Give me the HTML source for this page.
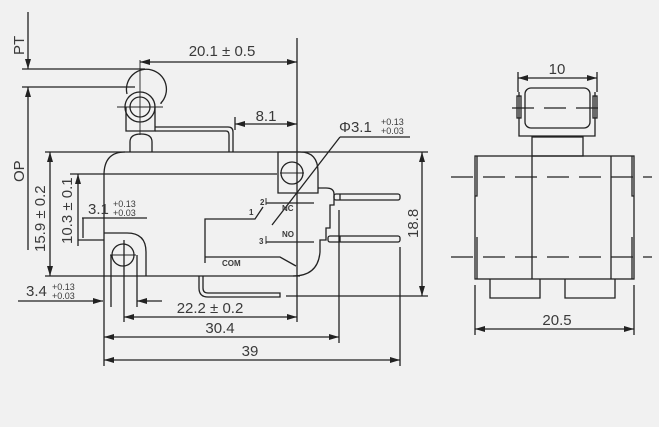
<!DOCTYPE html>
<html><head><style>
html,body{margin:0;padding:0;background:#f1f1f1}
svg{display:block}
text{font-family:"Liberation Sans",sans-serif;fill:#3a3a3a}
</style></head><body>
<svg width="659" height="427" viewBox="0 0 659 427" xmlns="http://www.w3.org/2000/svg">
<defs>
<marker id="a" markerWidth="10" markerHeight="6" refX="10" refY="3" orient="auto-start-reverse" markerUnits="userSpaceOnUse"><path d="M0,0L10,3L0,6z" fill="#222"/></marker>
</defs>
<rect width="659" height="427" fill="#f1f1f1"/>
<g stroke="#222" stroke-width="1.3" fill="none">
<line x1="28" y1="12" x2="28" y2="69" marker-end="url(#a)"/>
<line x1="28" y1="87" x2="28" y2="250" marker-start="url(#a)"/>
<line x1="22" y1="69" x2="145" y2="69"/>
<line x1="22" y1="87" x2="135" y2="87"/>
<path d="M127,94 A20,20 0 1 1 161,103 L161,104"/>
<circle cx="140" cy="107" r="15"/>
<circle cx="140" cy="107" r="10"/>
<line x1="117" y1="107" x2="163" y2="107" stroke-width="0.9"/>
<line x1="140" y1="60" x2="140" y2="135" stroke-width="0.9"/>
<path d="M126,107 V131 H155 V107"/>
<path d="M155,127 H228 Q233,127 233,132 V152"/>
<path d="M155,131 H226 Q229,131 229,135 V152"/>
<path d="M130,152 V142 Q130,134 141,134 Q152,134 152,142 V152"/>
<line x1="140" y1="62" x2="297" y2="62" marker-start="url(#a)" marker-end="url(#a)"/>
<line x1="297" y1="38" x2="297" y2="322"/>
<line x1="235" y1="124" x2="297" y2="124" marker-start="url(#a)" marker-end="url(#a)"/>
<line x1="235" y1="117" x2="235" y2="130"/>
<line x1="45" y1="152" x2="428" y2="152"/>
<path d="M125,152 Q104,152 104,175 V276"/>
<line x1="70" y1="174" x2="277" y2="174"/>
<line x1="45" y1="276" x2="300" y2="276"/>
<path d="M278,193 V152 H300 Q318,152 318,172 V193 Z"/>
<circle cx="292" cy="173" r="11"/>
<line x1="280" y1="173" x2="304" y2="173" stroke-width="0.9"/>
<line x1="272" y1="225" x2="340" y2="137"/>
<line x1="340" y1="137" x2="410" y2="137"/>
<path d="M318,188 H326 Q334,188 334,194 V205 H330 V228 H326 V240 H320 V252 Q318,276 293,276"/>
<rect x="334" y="194" width="66" height="6" rx="2"/>
<rect x="328" y="236" width="72" height="6" rx="2"/>
<line x1="340" y1="194" x2="340" y2="200"/>
<line x1="340" y1="236" x2="340" y2="242"/>
<path d="M205,263 V219 H255 L263,207"/>
<line x1="266" y1="203" x2="314" y2="203"/>
<line x1="266" y1="242" x2="314" y2="242"/>
<path d="M205,257 H280 L296,266"/>
<line x1="266" y1="198" x2="266" y2="205" stroke-width="0.9"/>
<line x1="266" y1="236" x2="266" y2="244" stroke-width="0.9"/>
<path d="M203,276 V288 Q203,293 208,293 H280 V297 H208 Q199,297 199,288 V276"/>
<path d="M104,233 H127 Q146,233 146,252 V276"/>
<circle cx="123" cy="255" r="11"/>
<line x1="110" y1="255" x2="136" y2="255" stroke-width="0.9"/>
<line x1="124" y1="240" x2="124" y2="322"/>
<line x1="137" y1="255" x2="137" y2="307"/>
<line x1="111" y1="255" x2="111" y2="307"/>
<line x1="50" y1="152" x2="50" y2="276" marker-start="url(#a)" marker-end="url(#a)"/>
<line x1="78" y1="174" x2="78" y2="246" marker-start="url(#a)"/>
<line x1="82" y1="218" x2="147" y2="218"/>
<line x1="83" y1="218" x2="83" y2="238"/>
<line x1="78" y1="240" x2="104" y2="240"/>
<line x1="18" y1="301" x2="103" y2="301" marker-end="url(#a)"/>
<line x1="162" y1="301" x2="137" y2="301" marker-end="url(#a)"/>
<line x1="104" y1="276" x2="104" y2="366"/>
<line x1="124" y1="317" x2="297" y2="317" marker-start="url(#a)" marker-end="url(#a)"/>
<line x1="104" y1="337" x2="339" y2="337" marker-start="url(#a)" marker-end="url(#a)"/>
<line x1="339" y1="210" x2="339" y2="343"/>
<line x1="104" y1="360" x2="400" y2="360" marker-start="url(#a)" marker-end="url(#a)"/>
<line x1="400" y1="247" x2="400" y2="366"/>
<line x1="286" y1="296" x2="428" y2="296"/>
<line x1="422" y1="152" x2="422" y2="296" marker-start="url(#a)" marker-end="url(#a)"/>
<line x1="518" y1="78" x2="597" y2="78" marker-start="url(#a)" marker-end="url(#a)"/>
<line x1="518" y1="72" x2="518" y2="92"/>
<line x1="597" y1="72" x2="597" y2="92"/>
<rect x="525" y="88" width="65" height="40" rx="6"/>
<path d="M519,92 V136 H595 V92"/>
<rect x="517" y="96" width="4" height="22"/>
<rect x="593" y="96" width="4" height="22"/>
<rect x="532" y="137" width="51" height="19"/>
<rect x="475" y="156" width="159" height="123"/>
<line x1="532" y1="156" x2="532" y2="279"/>
<line x1="611" y1="156" x2="611" y2="279"/>
<path d="M477,156 V196 H475"/><path d="M632,156 V196 H634"/>
<path d="M477,237 V279"/><path d="M632,237 V279"/>
<path d="M490,279 V298 H540 V279"/>
<path d="M565,279 V298 H615 V279"/>
<line x1="475" y1="285" x2="475" y2="335"/>
<line x1="634" y1="285" x2="634" y2="335"/>
<line x1="475" y1="329" x2="634" y2="329" marker-start="url(#a)" marker-end="url(#a)"/>
<g stroke-dasharray="22,10" stroke-width="1.2">
<line x1="451" y1="177" x2="652" y2="177"/>
<line x1="451" y1="257" x2="652" y2="257"/>
<line x1="512" y1="108" x2="605" y2="108"/>
</g>
</g>
<g font-size="15">
<text x="222" y="56" text-anchor="middle">20.1 ± 0.5</text>
<text x="266" y="121" text-anchor="middle">8.1</text>
<text x="339" y="132">Φ3.1</text>
<text x="210" y="313" text-anchor="middle">22.2 ± 0.2</text>
<text x="220" y="333" text-anchor="middle">30.4</text>
<text x="250" y="356" text-anchor="middle">39</text>
<text x="557" y="74" text-anchor="middle">10</text>
<text x="557" y="325" text-anchor="middle">20.5</text>
<text x="88" y="214">3.1</text>
<text x="26" y="296">3.4</text>
<text transform="translate(24,55) rotate(-90)">PT</text>
<text transform="translate(24,182) rotate(-90)">OP</text>
<text transform="translate(45,252) rotate(-90)">15.9 ± 0.2</text>
<text transform="translate(72,244) rotate(-90)">10.3 ± 0.1</text>
<text transform="translate(418,238) rotate(-90)">18.8</text>
</g>
<g font-size="9">
<text x="381" y="125">+0.13</text><text x="381" y="134">+0.03</text>
<text x="113" y="207">+0.13</text><text x="113" y="216">+0.03</text>
<text x="52" y="290">+0.13</text><text x="52" y="299">+0.03</text>
</g>
<g font-size="8" font-weight="bold">
<text x="282" y="211">NC</text>
<text x="282" y="237">NO</text>
<text x="222" y="266">COM</text>
<text x="260" y="205">2</text>
<text x="249" y="215">1</text>
<text x="259" y="244">3</text>
</g>
</svg>
</body></html>
